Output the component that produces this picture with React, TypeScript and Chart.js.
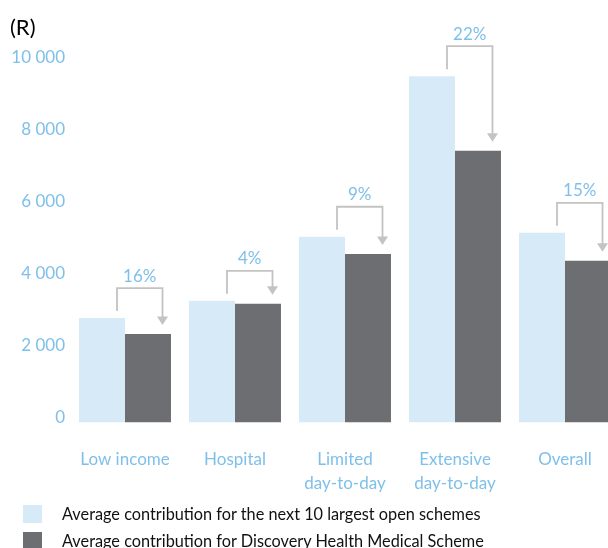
import React, { useEffect, useRef } from "react";
import { Chart, registerables } from "chart.js";

Chart.register(...registerables);

const categories: (string | string[])[] = [
  "Low income",
  "Hospital",
  ["Limited", "day-to-day"],
  ["Extensive", "day-to-day"],
  "Overall",
];
const openSchemes = [2900, 3380, 5160, 9620, 5270];
const discovery = [2460, 3300, 4680, 7550, 4490];
const pctLabels = ["16%", "4%", "9%", "22%", "15%"];
const yTicks = [0, 2000, 4000, 6000, 8000, 10000];
const unitLabel = "(R)";
const seriesNames = [
  "Average contribution for the next 10 largest open schemes",
  "Average contribution for Discovery Health Medical Scheme",
];

const LIGHT = "#d7eaf8";
const DARK = "#6d6e71";
const BLUE_TEXT = "#7fc0ea";
const ARROW = "#c3c3c3";
const FONT = "Lato";

const fmt = (v: number) => String(v).replace(/\B(?=(\d{3})+(?!\d))/g, " ");

const annotPlugin = {
  id: "annot",
  afterDatasetsDraw(chart: any) {
    const ctx = chart.ctx as CanvasRenderingContext2D;
    const xs = chart.scales.x;
    const ys = chart.scales.y;
    ctx.save();
    ctx.fillStyle = "#000";
    ctx.font = `22px ${FONT}`;
    ctx.textAlign = "left";
    ctx.textBaseline = "middle";
    ctx.fillText(unitLabel, 2, 20);
    categories.forEach((_c, i) => {
      const cx = xs.getPixelForValue(i);
      const yl = ys.getPixelForValue(openSchemes[i]);
      const yd = ys.getPixelForValue(discovery[i]);
      const lx = cx - 8;
      const rx = cx + 37.5;
      const top = yl - 30;
      const tip = yd - 9;
      ctx.strokeStyle = ARROW;
      ctx.lineWidth = 1.8;
      ctx.beginPath();
      ctx.moveTo(lx, yl - 7);
      ctx.lineTo(lx, top);
      ctx.lineTo(rx, top);
      ctx.lineTo(rx, tip - 7);
      ctx.stroke();
      ctx.fillStyle = ARROW;
      ctx.beginPath();
      ctx.moveTo(rx - 5.5, tip - 8.5);
      ctx.lineTo(rx + 5.5, tip - 8.5);
      ctx.lineTo(rx, tip);
      ctx.closePath();
      ctx.fill();
      ctx.fillStyle = BLUE_TEXT;
      ctx.font = `17px ${FONT}`;
      ctx.textAlign = "center";
      ctx.textBaseline = "middle";
      ctx.fillText(pctLabels[i], (lx + rx) / 2, top - 12);
    });
    ctx.restore();
  },
};

export default function App() {
  const ref = useRef<HTMLCanvasElement | null>(null);
  useEffect(() => {
    const prevMargin = document.body.style.margin;
    document.body.style.margin = "0";
    if (!ref.current) return;
    const chart = new Chart(ref.current, {
      type: "bar",
      data: {
        labels: categories as any,
        datasets: [
          {
            label: seriesNames[0],
            data: openSchemes,
            backgroundColor: LIGHT,
            borderWidth: 0,
            categoryPercentage: 0.836,
            barPercentage: 1,
          },
          {
            label: seriesNames[1],
            data: discovery,
            backgroundColor: DARK,
            borderWidth: 0,
            categoryPercentage: 0.836,
            barPercentage: 1,
          },
        ],
      },
      options: {
        animation: false,
        responsive: false,
        devicePixelRatio: 1,
        layout: { padding: { top: 54.5, left: 0, right: 0, bottom: 0 } },
        plugins: { legend: { display: false }, tooltip: { enabled: false } },
        scales: {
          x: {
            grid: { display: false, drawTicks: false },
            border: { display: false },
            ticks: {
              color: BLUE_TEXT,
              font: { family: FONT, size: 17, lineHeight: 1.4 },
              padding: 25,
              maxRotation: 0,
              autoSkip: false,
            },
            afterFit: (s: any) => {
              s.height = 85.5;
            },
          },
          y: {
            min: 0,
            max: 10000,
            grid: { display: false, drawTicks: false },
            border: { display: false },
            afterBuildTicks: (s: any) => {
              s.ticks = yTicks.map((v) => ({ value: v }));
            },
            ticks: {
              color: BLUE_TEXT,
              font: { family: FONT, size: 17 },
              padding: 5,
              labelOffset: -5,
              callback: (v: any) => fmt(Number(v)),
            },
            afterFit: (s: any) => {
              s.width = 62;
            },
          },
        },
      },
      plugins: [annotPlugin],
    });
    return () => {
      chart.destroy();
      document.body.style.margin = prevMargin;
    };
  }, []);

  const legendColors = [LIGHT, DARK];
  return (
    <div
      style={{
        position: "relative",
        width: 608,
        height: 548,
        overflow: "hidden",
        fontFamily: FONT,
      }}
    >
      <canvas
        ref={ref}
        width={612}
        height={500}
        style={{ position: "absolute", left: 8, top: 8, width: 612, height: 500 }}
      />
      {seriesNames.map((name, i) => (
        <React.Fragment key={name}>
          <div
            style={{
              position: "absolute",
              left: 23,
              top: 505 + i * 27,
              width: 19,
              height: 18,
              background: legendColors[i],
            }}
          />
          <div
            style={{
              position: "absolute",
              left: 62,
              top: 505 + i * 27,
              height: 18,
              lineHeight: "18px",
              fontSize: 16.3,
              color: "#111",
              whiteSpace: "nowrap",
            }}
          >
            {name}
          </div>
        </React.Fragment>
      ))}
    </div>
  );
}
